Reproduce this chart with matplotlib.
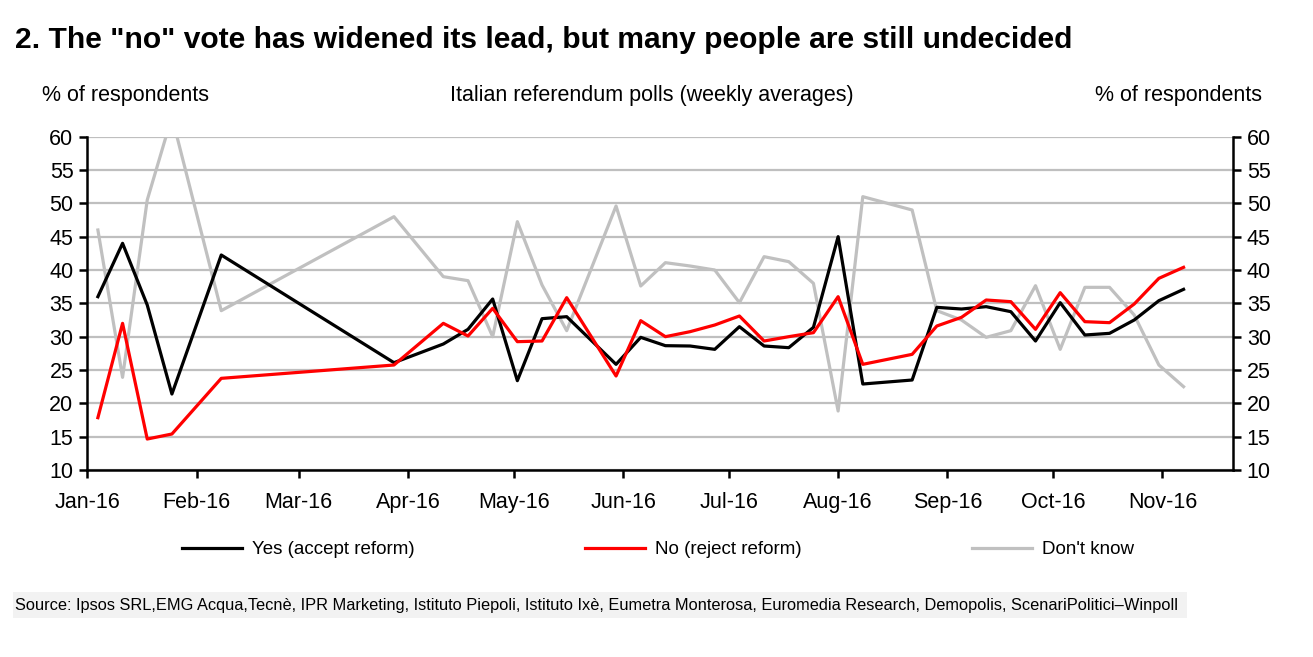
import matplotlib
matplotlib.use("Agg")
import matplotlib.pyplot as plt
import matplotlib.dates as mdates
from matplotlib.patches import Rectangle
import pandas as pd

plt.rcParams['font.family'] = ['Liberation Sans', 'DejaVu Sans']

dates = ['2016-01-04', '2016-01-11', '2016-01-18', '2016-01-25', '2016-02-08',
         '2016-03-28', '2016-04-11', '2016-04-18', '2016-04-25', '2016-05-02',
         '2016-05-09', '2016-05-16', '2016-05-30', '2016-06-06', '2016-06-13',
         '2016-06-20', '2016-06-27', '2016-07-04', '2016-07-11', '2016-07-18',
         '2016-07-25', '2016-08-01', '2016-08-08', '2016-08-22', '2016-08-29',
         '2016-09-05', '2016-09-12', '2016-09-19', '2016-09-26', '2016-10-03',
         '2016-10-10', '2016-10-17', '2016-10-24', '2016-10-31', '2016-11-07']

yes_vals = [36.0, 44.0, 34.75, 21.4, 42.25, 26.1, 28.9, 31.1, 35.65, 23.4,
            32.7, 33.0, 25.85, 29.9, 28.65, 28.6, 28.1, 31.5, 28.6, 28.35,
            31.4, 45.0, 22.9, 23.5, 34.4, 34.15, 34.5, 33.75, 29.35, 35.1,
            30.25, 30.5, 32.5, 35.4, 37.1]

no_vals = [17.85, 32.0, 14.65, 15.4, 23.75, 25.75, 32.0, 30.1, 34.25, 29.25,
           29.35, 35.85, 24.1, 32.4, 30.0, 30.75, 31.75, 33.1, 29.35, 30.0,
           30.6, 36.0, 25.85, 27.35, 31.6, 32.9, 35.5, 35.25, 31.1, 36.6,
           32.25, 32.1, 34.9, 38.75, 40.4]

dk_vals = [46.0, 23.9, 50.5, 63.0, 33.9, 48.0, 39.0, 38.4, 30.0, 47.25,
           37.75, 30.9, 49.6, 37.6, 41.1, 40.6, 40.0, 35.1, 42.0, 41.25,
           38.0, 18.85, 51.0, 49.0, 33.9, 32.5, 29.9, 30.9, 37.65, 28.1,
           37.4, 37.4, 33.25, 25.75, 22.5]

series_names = ['Yes (accept reform)', 'No (reject reform)', "Don't know"]
yticks = list(range(10, 61, 5))

title = '2. The "no" vote has widened its lead, but many people are still undecided'
subtitle = 'Italian referendum polls (weekly averages)'
axis_label = '% of respondents'
source = ('Source: Ipsos SRL,EMG Acqua,Tecnè, IPR Marketing, Istituto Piepoli, Istituto Ixè, '
          'Eumetra Monterosa, Euromedia Research, Demopolis, ScenariPolitici\u2013Winpoll')

x = pd.to_datetime(dates)

fig = plt.figure(figsize=(13.13, 6.57), dpi=100)
ax = fig.add_axes([0.0665, 0.2846, 0.8725, 0.5074])

grid_c = '#BFBFBF'
for v in yticks:
    ax.axhline(v, color=grid_c, lw=1.6, zorder=1)

lw = 2.3
l1, = ax.plot(x, yes_vals, color='black', lw=lw, zorder=3, label=series_names[0])
l2, = ax.plot(x, no_vals, color='#FF0000', lw=lw, zorder=4, label=series_names[1])
l3, = ax.plot(x, dk_vals, color='#C0C0C0', lw=lw, zorder=2, label=series_names[2])

ax.set_ylim(10, 60)
ax.set_xlim(pd.Timestamp('2016-01-01'), pd.Timestamp('2016-11-21'))
ax.set_yticks(yticks)
ax.xaxis.set_major_locator(mdates.MonthLocator())
ax.xaxis.set_major_formatter(mdates.DateFormatter('%b-%y'))

for s in ['left', 'right', 'bottom']:
    ax.spines[s].set_linewidth(1.8)
    ax.spines[s].set_color('black')
ax.spines['top'].set_visible(False)

ax.tick_params(axis='both', which='major', labelsize=15.5, width=1.8, length=6,
               direction='out', colors='black')
ax.tick_params(axis='x', pad=10)
ax.tick_params(axis='y', pad=4, labelright=True, right=True)

fig.text(0.0115, 0.939, title, fontsize=21.6, fontweight='bold', va='center', ha='left')
fig.text(0.032, 0.855, axis_label, fontsize=15.5, va='center', ha='left')
fig.text(0.4966, 0.855, subtitle, fontsize=15.5, va='center', ha='center')
fig.text(0.961, 0.855, axis_label, fontsize=15.5, va='center', ha='right')

fig.legend(handles=[l1, l2, l3], loc='center', bbox_to_anchor=(0.501, 0.163),
           ncol=3, frameon=False, fontsize=13.5, handlelength=3.2,
           handletextpad=0.53, columnspacing=9.1)

fig.patches.append(Rectangle((0.0097, 0.059), 0.894, 0.04, transform=fig.transFigure,
                             facecolor='#F2F2F2', edgecolor='none', zorder=0))
fig.text(0.0115, 0.079, source, fontsize=11.75, va='center', ha='left', zorder=1)

fig.savefig('out.png', dpi=100)
